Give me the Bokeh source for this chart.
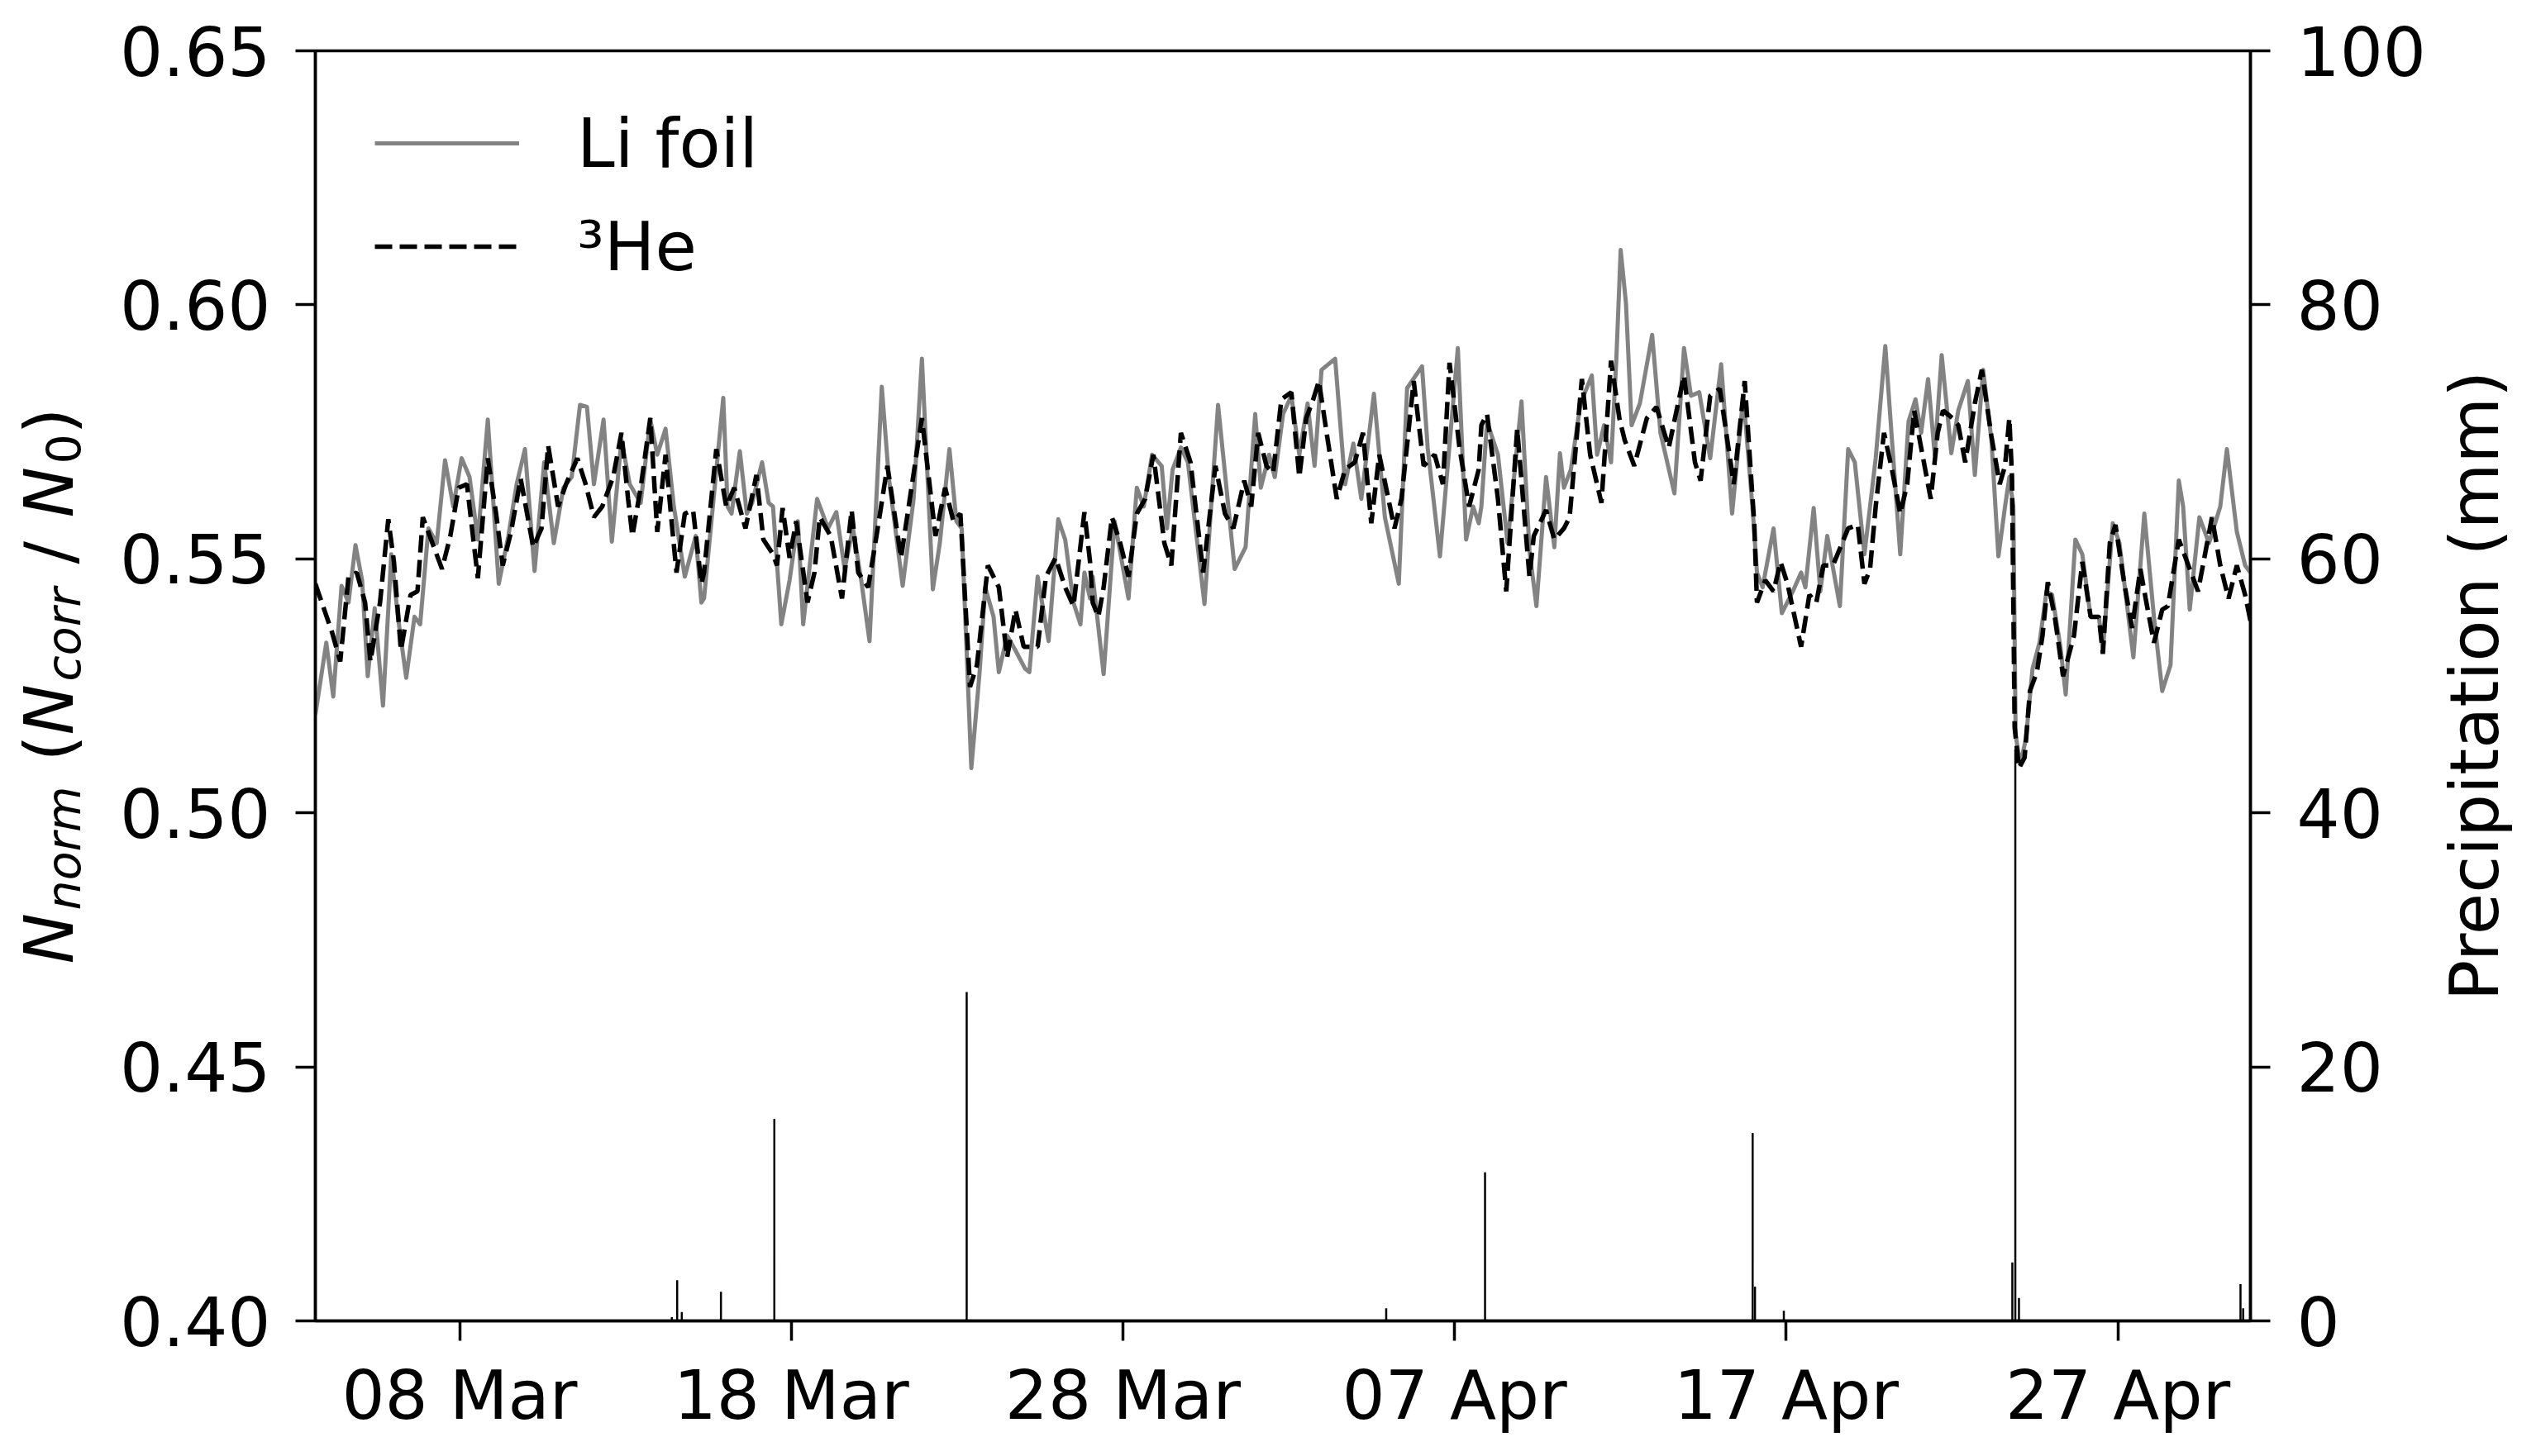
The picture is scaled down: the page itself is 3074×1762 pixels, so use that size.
import numpy as np
import pandas as pd
from math import pi
from bokeh.plotting import figure
from bokeh.layouts import row
from bokeh.models import (Range1d, LinearAxis, FixedTicker, NumeralTickFormatter,
                          DatetimeTickFormatter, Legend, LegendItem, Label, ColumnDataSource)
from bokeh.embed import file_html
from bokeh.resources import INLINE

BASE = "2021-03-01"  # day 0 of the day counts below

# ---- Li foil (days since 1 Mar, normalised counts) ----
li_days = [2.65, 2.98, 3.19, 3.44, 3.65, 3.86, 4.06, 4.23, 4.44, 4.69,
           4.94, 5.14, 5.39, 5.64, 5.81, 6.06, 6.31, 6.56, 6.81, 7.06,
           7.30, 7.55, 7.85, 8.18, 8.47, 8.72, 8.97, 9.26, 9.55, 9.84,
           10.13, 10.38, 10.63, 10.84, 11.05, 11.34, 11.59, 11.88, 12.13, 12.46,
           12.75, 12.96, 13.21, 13.46, 13.79, 14.12, 14.29,
           14.37, 14.95, 15.08, 15.20, 15.45, 15.66, 15.82, 16.12, 16.32, 16.45,
           16.70, 16.95, 17.20, 17.36, 17.78, 18.11, 18.36, 18.61, 18.86, 19.11,
           19.36, 19.73, 19.94, 20.36, 20.69, 20.94, 21.27, 21.48, 21.77, 21.98,
           22.14, 22.43, 22.68, 22.85, 23.10, 23.26, 23.51, 23.76, 24.05, 24.18,
           24.43, 24.76, 25.05, 25.26, 25.51, 25.72, 25.84, 26.01,
           26.09, 26.42, 26.75, 27.17, 27.42, 27.63, 27.88, 28.17, 28.33, 28.50,
           28.75, 28.96, 29.46, 29.87, 30.37, 30.70, 30.99, 31.16, 31.41, 31.58,
           31.83, 32.08, 32.32, 32.57, 32.78, 32.99, 33.40, 33.70, 33.95, 34.19,
           34.57, 34.90, 35.32, 35.57, 36.02, 36.19, 36.56, 37.10, 37.35, 37.56,
           37.73,
           37.81, 37.98, 38.31, 38.60, 39.02, 39.26, 39.47, 39.76, 40.01, 40.18,
           40.30, 40.51, 40.80, 41.14, 41.30, 41.51, 41.72, 41.88, 42.01, 42.17,
           42.34, 42.59, 42.96, 43.21, 43.63, 43.92, 44.13, 44.38, 44.71, 45.04,
           45.37, 45.71, 46.00, 46.12, 46.29, 46.62, 46.87, 47.20, 47.45, 47.58,
           47.83, 48.03, 48.24, 48.62, 48.87, 49.07, 49.36,
           49.53, 49.70, 49.99, 50.19, 50.44, 50.69, 50.90, 51.07, 51.28, 51.48,
           51.69, 51.98, 52.19, 52.48, 52.69, 52.94, 53.19, 53.40, 53.60, 53.73,
           53.85, 53.92, 54.06, 54.23, 54.43, 54.64, 54.85, 55.02, 55.27, 55.43,
           55.72, 55.93, 56.18, 56.43, 56.55, 56.85, 57.05, 57.47, 57.80, 58.09,
           58.34, 58.59, 58.84, 58.97, 59.17, 59.46, 59.75, 60.09, 60.29, 60.59,
           60.84, 61.00]
li_vals = [0.5193, 0.5335, 0.5229, 0.5447, 0.5414, 0.5527, 0.5458, 0.5269, 0.5403, 0.5211,
           0.5509, 0.5386, 0.5266, 0.5386, 0.5371, 0.5560, 0.5531, 0.5694, 0.5603, 0.5698,
           0.5661, 0.5538, 0.5774, 0.5451, 0.5545, 0.5647, 0.5716, 0.5476, 0.5690, 0.5531,
           0.5640, 0.5661, 0.5803, 0.5799, 0.5647, 0.5774, 0.5534, 0.5734, 0.5647, 0.5610,
           0.5774, 0.5705, 0.5756, 0.5603, 0.5465, 0.5545, 0.5414,
           0.5422, 0.5817, 0.5603, 0.5589, 0.5712, 0.5589, 0.5610, 0.5690, 0.5610, 0.5603,
           0.5371, 0.5458, 0.5574, 0.5371, 0.5618, 0.5560, 0.5592, 0.5480, 0.5560, 0.5458,
           0.5338, 0.5839, 0.5661, 0.5447, 0.5618, 0.5894, 0.5440, 0.5531, 0.5716, 0.5574,
           0.5560, 0.5088, 0.5277, 0.5444, 0.5386, 0.5277, 0.5349, 0.5320, 0.5284, 0.5277,
           0.5465, 0.5338, 0.5578, 0.5538, 0.5414, 0.5371, 0.5473, 0.5422,
           0.5465, 0.5273, 0.5574, 0.5422, 0.5640, 0.5603, 0.5705, 0.5683, 0.5560, 0.5676,
           0.5719, 0.5690, 0.5411, 0.5803, 0.5480, 0.5523, 0.5785, 0.5640, 0.5705, 0.5661,
           0.5785, 0.5821, 0.5705, 0.5806, 0.5683, 0.5872, 0.5894, 0.5647, 0.5727, 0.5618,
           0.5825, 0.5582, 0.5451, 0.5836, 0.5879, 0.5719, 0.5505, 0.5915, 0.5538, 0.5603,
           0.5570,
           0.5603, 0.5770, 0.5705, 0.5531, 0.5810, 0.5516, 0.5407, 0.5661, 0.5523, 0.5708,
           0.5640, 0.5676, 0.5806, 0.5861, 0.5705, 0.5763, 0.5690, 0.5894, 0.6108, 0.6003,
           0.5763, 0.5806, 0.5941, 0.5748, 0.5629, 0.5915, 0.5821, 0.5828, 0.5698, 0.5883,
           0.5589, 0.5821, 0.5589, 0.5473, 0.5444, 0.5560, 0.5393, 0.5436, 0.5473, 0.5444,
           0.5600, 0.5436, 0.5545, 0.5407, 0.5716, 0.5690, 0.5509,
           0.5603, 0.5698, 0.5919, 0.5734, 0.5509, 0.5770, 0.5814, 0.5748, 0.5854, 0.5705,
           0.5901, 0.5708, 0.5792, 0.5850, 0.5665, 0.5872, 0.5734, 0.5505, 0.5603, 0.5661,
           0.5603, 0.5153, 0.5095, 0.5146, 0.5284, 0.5335, 0.5436, 0.5429, 0.5327, 0.5233,
           0.5538, 0.5509, 0.5386, 0.5386, 0.5320, 0.5570, 0.5531, 0.5306, 0.5589, 0.5386,
           0.5240, 0.5291, 0.5654, 0.5603, 0.5400, 0.5582, 0.5531, 0.5603, 0.5716, 0.5553,
           0.5487, 0.5473]

# ---- 3He (days since 1 Mar, normalised counts) ----
he_days = [2.65, 3.15, 3.40, 3.65, 3.90, 4.15, 4.31, 4.60, 4.85, 5.02,
           5.23, 5.52, 5.73, 5.89, 6.14, 6.47, 6.72, 6.97, 7.22, 7.55,
           7.85, 8.10, 8.30, 8.55, 8.84, 9.22, 9.47, 9.67, 9.97, 10.21,
           10.55, 10.80, 11.05, 11.30, 11.63, 11.88, 12.08, 12.21, 12.46, 12.75,
           12.96, 13.21, 13.37, 13.54, 13.79, 14.04, 14.29,
           14.37, 14.74, 15.04, 15.28, 15.62, 15.95, 16.16, 16.45, 16.57, 16.74,
           16.95, 17.15, 17.49, 17.70, 17.86, 18.19, 18.53, 18.82, 19.02, 19.32,
           19.57, 19.90, 20.31, 20.94, 21.35, 21.64, 21.89, 22.10, 22.39, 22.60,
           22.93, 23.26, 23.51, 23.76, 24.01, 24.43, 24.68, 24.97, 25.26, 25.51,
           25.84, 26.01,
           26.09, 26.26, 26.42, 26.67, 26.92, 27.17, 27.42, 27.67, 27.92, 28.25,
           28.46, 28.75, 29.04, 29.42, 29.79, 30.08, 30.33, 30.66, 30.87, 31.08,
           31.33, 31.53, 31.78, 32.08, 32.32, 32.53, 32.74, 32.91, 33.16, 33.45,
           33.70, 33.99, 34.24, 34.49, 34.73, 35.19, 35.40, 35.77, 36.07, 36.40,
           36.65, 36.85, 37.15, 37.44, 37.73,
           37.81, 37.98, 38.31, 38.56, 38.89, 39.26, 39.39, 39.76, 40.01, 40.30,
           40.47, 40.84, 41.09, 41.43, 41.72, 41.97, 42.13, 42.42, 42.80, 43.09,
           43.46, 43.92, 44.25, 44.42, 44.71, 45.00, 45.42, 45.75, 46.04, 46.12,
           46.37, 46.62, 46.83, 47.04, 47.45, 47.70, 47.91, 48.12, 48.41, 48.87,
           49.16, 49.36,
           49.53, 49.70, 49.95, 50.19, 50.44, 50.65, 50.86, 51.11, 51.36, 51.57,
           51.73, 52.02, 52.19, 52.40, 52.69, 52.90, 53.19, 53.44, 53.60, 53.73,
           53.81, 53.89, 54.02, 54.19, 54.35, 54.56, 54.73, 54.89, 55.10, 55.35,
           55.68, 55.93, 56.18, 56.43, 56.55, 56.76, 56.93, 57.18, 57.43, 57.68,
           57.84, 58.09, 58.34, 58.51, 58.84, 59.17, 59.42, 59.84, 60.09, 60.34,
           60.59, 60.84, 61.00]
he_vals = [0.5451, 0.5356, 0.5298, 0.5465, 0.5473, 0.5414, 0.5298, 0.5414, 0.5578, 0.5494,
           0.5320, 0.5429, 0.5436, 0.5582, 0.5538, 0.5480, 0.5545, 0.5640, 0.5647, 0.5462,
           0.5698, 0.5589, 0.5487, 0.5553, 0.5658, 0.5523, 0.5560, 0.5723, 0.5603, 0.5647,
           0.5698, 0.5647, 0.5582, 0.5603, 0.5661, 0.5748, 0.5618, 0.5545, 0.5640, 0.5777,
           0.5553, 0.5705, 0.5589, 0.5473, 0.5589, 0.5596, 0.5451,
           0.5473, 0.5716, 0.5603, 0.5640, 0.5560, 0.5665, 0.5538, 0.5509, 0.5487, 0.5600,
           0.5502, 0.5574, 0.5414, 0.5473, 0.5582, 0.5545, 0.5422, 0.5596, 0.5473, 0.5444,
           0.5545, 0.5683, 0.5502, 0.5777, 0.5545, 0.5640, 0.5574, 0.5589, 0.5248, 0.5291,
           0.5487, 0.5444, 0.5306, 0.5400, 0.5327, 0.5327, 0.5465, 0.5502, 0.5444, 0.5407,
           0.5592, 0.5494,
           0.5414, 0.5386, 0.5444, 0.5582, 0.5531, 0.5465, 0.5589, 0.5618, 0.5705, 0.5531,
           0.5487, 0.5748, 0.5690, 0.5473, 0.5683, 0.5589, 0.5560, 0.5654, 0.5603, 0.5748,
           0.5683, 0.5669, 0.5814, 0.5828, 0.5661, 0.5777, 0.5814, 0.5850, 0.5741, 0.5618,
           0.5676, 0.5690, 0.5748, 0.5570, 0.5705, 0.5560, 0.5618, 0.5850, 0.5683, 0.5705,
           0.5647, 0.5886, 0.5719, 0.5603, 0.5676,
           0.5763, 0.5785, 0.5618, 0.5436, 0.5756, 0.5465, 0.5545, 0.5596, 0.5538, 0.5560,
           0.5582, 0.5854, 0.5705, 0.5610, 0.5890, 0.5777, 0.5734, 0.5683, 0.5777, 0.5799,
           0.5719, 0.5861, 0.5690, 0.5654, 0.5821, 0.5835, 0.5647, 0.5850, 0.5567, 0.5414,
           0.5458, 0.5436, 0.5494, 0.5451, 0.5327, 0.5429, 0.5414, 0.5487, 0.5487, 0.5560,
           0.5567, 0.5451,
           0.5480, 0.5603, 0.5748, 0.5676, 0.5589, 0.5647, 0.5792, 0.5705, 0.5618, 0.5748,
           0.5792, 0.5777, 0.5763, 0.5690, 0.5806, 0.5872, 0.5741, 0.5647, 0.5683, 0.5777,
           0.5661, 0.5168, 0.5088, 0.5109, 0.5240, 0.5277, 0.5349, 0.5454, 0.5386, 0.5269,
           0.5349, 0.5494, 0.5386, 0.5386, 0.5313, 0.5531, 0.5567, 0.5458, 0.5364, 0.5480,
           0.5422, 0.5335, 0.5400, 0.5407, 0.5538, 0.5480, 0.5436, 0.5582, 0.5487, 0.5422,
           0.5487, 0.5429, 0.5378]

# ---- precipitation (days since 1 Mar, mm) ----
prec_days = [13.40, 13.56, 13.70, 14.88, 16.49, 22.29, 34.94, 37.92,
             45.99, 46.06, 46.93, 53.82, 53.91, 54.02, 60.70, 60.78]
prec_mm = [0.3, 3.2, 0.7, 2.3, 15.9, 25.9, 1.0, 11.7,
           14.8, 2.7, 0.8, 4.6, 45.0, 1.8, 2.9, 1.0]

# ---- axes ticks and labels ----
x_tick_dates = ["2021-03-08", "2021-03-18", "2021-03-28", "2021-04-07", "2021-04-17", "2021-04-27"]
y_ticks = [0.40, 0.45, 0.50, 0.55, 0.60, 0.65]
prec_ticks = [0, 20, 40, 60, 80, 100]
li_label = "Li foil"
he_label = "\u00b3He"
prec_label = "Precipitation (mm)"


def to_dt(days):
    return pd.Timestamp(BASE) + pd.to_timedelta(np.asarray(days, dtype=float), unit="D")


li_src = ColumnDataSource(dict(x=to_dt(li_days), y=li_vals))
he_src = ColumnDataSource(dict(x=to_dt(he_days), y=he_vals))
pr_src = ColumnDataSource(dict(x=to_dt(prec_days), y0=[0] * len(prec_mm), y1=prec_mm))

FONT = "DejaVu Sans"
FS = "82px"
H = 1746
TOP, BOTTOM = 61, 148          # borders above / below the plot frame
FRAME_H = H - TOP - BOTTOM
LEFT_W = 135
MAIN_W = 2810
RIGHT_W = 113


def text_panel(w):
    # a blank companion panel whose frame lines up with the main frame; units = pixels
    f = figure(width=w, height=H, x_range=Range1d(0, w), y_range=Range1d(0, FRAME_H),
               toolbar_location=None, output_backend="svg",
               min_border_left=0, min_border_right=0,
               min_border_top=TOP, min_border_bottom=BOTTOM,
               x_axis_location=None, y_axis_location=None)
    f.xgrid.visible = False
    f.ygrid.visible = False
    f.outline_line_color = None
    f.background_fill_color = "white"
    f.border_fill_color = "white"
    return f


p = figure(width=MAIN_W, height=H, x_axis_type="datetime", output_backend="svg",
           toolbar_location=None,
           x_range=Range1d(to_dt([min(li_days)])[0], to_dt([max(li_days)])[0]),
           y_range=Range1d(y_ticks[0], y_ticks[-1]),
           min_border_left=246, min_border_right=223, min_border_top=TOP, min_border_bottom=BOTTOM)
p.extra_y_ranges = {"prec": Range1d(prec_ticks[0], prec_ticks[-1])}
right_axis = LinearAxis(y_range_name="prec", ticker=FixedTicker(ticks=prec_ticks))
p.add_layout(right_axis, "right")

p.xgrid.visible = False
p.ygrid.visible = False
p.background_fill_color = "white"
p.border_fill_color = "white"
p.outline_line_color = "black"
p.outline_line_width = 3.5
p.outline_line_alpha = 1.0

xax = p.below[0]
yax = p.left[0]
xax.ticker = FixedTicker(ticks=[pd.Timestamp(d).value / 1e6 for d in x_tick_dates])
xax.formatter = DatetimeTickFormatter(days="%d %b", months="%d %b", hours="%d %b")
yax.ticker = FixedTicker(ticks=y_ticks)
yax.formatter = NumeralTickFormatter(format="0.00")

for ax in (xax, yax, right_axis):
    ax.major_label_text_font = FONT
    ax.major_label_text_font_size = FS
    ax.major_label_text_color = "black"
    ax.axis_line_width = 3.5
    ax.axis_line_color = "black"
    ax.major_tick_line_width = 3.5
    ax.major_tick_line_color = "black"
    ax.major_tick_out = 24
    ax.major_tick_in = 0
    ax.minor_tick_out = 0
    ax.minor_tick_in = 0
xax.major_label_standoff = 18
yax.major_label_standoff = 30
right_axis.major_label_standoff = 32

# precipitation bars
p.segment(x0="x", y0="y0", x1="x", y1="y1", source=pr_src, y_range_name="prec",
          line_color="black", line_width=2.5)
# series
r_li = p.line("x", "y", source=li_src, line_color="#838383", line_width=5, line_join="round")
r_he = p.line("x", "y", source=he_src, line_color="black", line_width=5.5, line_dash="21 9")

legend = Legend(items=[LegendItem(label=li_label, renderers=[r_li]),
                       LegendItem(label=he_label, renderers=[r_he])],
                location=(72, 1252), orientation="vertical",
                border_line_alpha=0, background_fill_alpha=0,
                label_text_font=FONT, label_text_font_size=FS, label_text_color="black",
                glyph_width=175, glyph_height=96, label_height=96,
                spacing=29, label_standoff=70, padding=0, margin=0)
p.add_layout(legend)

CENTER_Y = FRAME_H / 2

# left axis label: N_norm (N_corr / N_0), built piecewise, reading upward
lp = text_panel(LEFT_W)
base_x = 59
sub_dx = 17
pieces = [("N", 82, "italic", 0, 65), ("norm", 57, "italic", sub_dx, 180),
          ("(", 82, "normal", 0, 32), ("N", 82, "italic", 0, 65),
          ("corr", 57, "italic", sub_dx, 142), ("/", 82, "normal", 0, 56),
          ("N", 82, "italic", 0, 65), ("0", 57, "normal", sub_dx, 36), (")", 82, "normal", 0, 32)]
total = sum(pc[4] for pc in pieces)
y_pos = CENTER_Y - total / 2
for txt, size, style, dx, w in pieces:
    lp.add_layout(Label(x=base_x + dx, y=y_pos, text=txt, angle=pi / 2,
                        text_font=FONT, text_font_size=f"{size}px",
                        text_font_style=style, text_color="black",
                        text_align="left", text_baseline="alphabetic"))
    y_pos += w

# right axis label (reads upward like the reference)
rp = text_panel(RIGHT_W)
rp.add_layout(Label(x=48, y=CENTER_Y, text=prec_label, angle=pi / 2,
                    text_font=FONT, text_font_size=FS, text_color="black",
                    text_align="center", text_baseline="alphabetic"))

layout = row(lp, p, rp, spacing=0)
open("out.html", "w").write(file_html(layout, INLINE))
